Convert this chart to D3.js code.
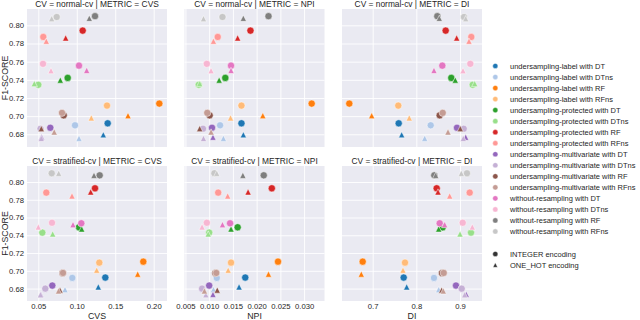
<!DOCTYPE html>
<html>
<head>
<meta charset="utf-8">
<script src="https://cdn.jsdelivr.net/npm/d3@7"></script>
<style>
  body { margin: 0; background: #fff; }
  svg { font-family: "Liberation Sans", Arial, sans-serif; }
</style>
</head>
<body>
<svg id="chart" width="640" height="320"></svg>
<script>
// methods in legend order, two encodings each
const methods = [
  "undersampling-label with DT", "undersampling-label with DTns",
  "undersampling-label with RF", "undersampling-label with RFns",
  "undersampling-protected with DT", "undersampling-protected with DTns",
  "undersampling-protected with RF", "undersampling-protected with RFns",
  "undersampling-multivariate with DT", "undersampling-multivariate with DTns",
  "undersampling-multivariate with RF", "undersampling-multivariate with RFns",
  "without-resampling with DT", "without-resampling with DTns",
  "without-resampling with RF", "without-resampling with RFns"
];
const encodings = ["INTEGER encoding", "ONE_HOT encoding"];
const cvs = ["normal-cv", "stratified-cv"];
const metrics = ["CVS", "NPI", "DI"];

// F1 per method
const f1NormalInt = [0.6921, 0.6899, 0.7138, 0.7116, 0.7421, 0.7345, 0.7942, 0.7872, 0.6872, 0.6861, 0.7009, 0.7036, 0.7556, 0.7576, 0.8101, 0.8092];
const f1NormalOh  = [0.6795, 0.6756, 0.7006, 0.6981, 0.7397, 0.7359, 0.7861, 0.7826, 0.6768, 0.6755, 0.6863, 0.6826, 0.7504, 0.7501, 0.8078, 0.8074];
const f1StratInt  = [0.6924, 0.6920, 0.7103, 0.7092, 0.7490, 0.7430, 0.7929, 0.7880, 0.6834, 0.6799, 0.6974, 0.6976, 0.7535, 0.7541, 0.8075, 0.8098];
const f1StratOh   = [0.6819, 0.6789, 0.6963, 0.7007, 0.7471, 0.7415, 0.7888, 0.7843, 0.6735, 0.6731, 0.6783, 0.6774, 0.7520, 0.7494, 0.8075, 0.8098];

// fairness metrics per method
const cvsNormalInt = [0.1402, 0.0977, 0.2073, 0.1393, 0.0882, 0.0500, 0.1077, 0.0565, 0.0656, 0.0529, 0.0830, 0.0808, 0.1029, 0.0561, 0.1237, 0.0739];
const cvsNormalOh  = [0.1345, 0.1029, 0.1666, 0.1189, 0.0786, 0.0448, 0.0856, 0.0604, 0.0542, 0.0539, 0.0539, 0.0707, 0.1129, 0.0665, 0.1163, 0.0674];
const npiNormalInt = [0.0168, 0.0123, 0.0316, 0.0168, 0.0134, 0.0078, 0.0187, 0.0118, 0.0106, 0.0087, 0.0101, 0.0096, 0.0146, 0.0095, 0.0225, 0.0128];
const npiNormalOh  = [0.0172, 0.0130, 0.0213, 0.0145, 0.0121, 0.0080, 0.0160, 0.0109, 0.0108, 0.0088, 0.0080, 0.0104, 0.0146, 0.0104, 0.0172, 0.0088];
const diNormalInt  = [0.7596, 0.8329, 0.6464, 0.7586, 0.8801, 0.9291, 0.8672, 0.9259, 0.8931, 0.9085, 0.8535, 0.8604, 0.8595, 0.9236, 0.8480, 0.9092];
const diNormalOh   = [0.7664, 0.8191, 0.6977, 0.7838, 0.8892, 0.9337, 0.8924, 0.9206, 0.9131, 0.9076, 0.9007, 0.8725, 0.8404, 0.9069, 0.8526, 0.9131];

const cvsStratInt = [0.1371, 0.0942, 0.1865, 0.1293, 0.1029, 0.0552, 0.1237, 0.0604, 0.0682, 0.0591, 0.0815, 0.0821, 0.1059, 0.0678, 0.1298, 0.0674];
const cvsStratOh  = [0.1280, 0.0847, 0.1792, 0.1259, 0.1064, 0.0687, 0.1181, 0.0938, 0.0532, 0.0529, 0.0782, 0.0763, 0.0951, 0.0500, 0.1224, 0.0765];
const npiStratInt = [0.0176, 0.0116, 0.0245, 0.0146, 0.0160, 0.0100, 0.0232, 0.0119, 0.0100, 0.0085, 0.0113, 0.0115, 0.0144, 0.0095, 0.0215, 0.0111];
const npiStratOh  = [0.0163, 0.0109, 0.0225, 0.0140, 0.0146, 0.0098, 0.0182, 0.0139, 0.0108, 0.0093, 0.0117, 0.0090, 0.0128, 0.0085, 0.0171, 0.0116];
const diStratInt  = [0.7710, 0.8404, 0.6771, 0.7740, 0.8604, 0.9252, 0.8466, 0.9222, 0.8908, 0.9039, 0.8588, 0.8627, 0.8535, 0.9062, 0.8411, 0.9160];
const diStratOh   = [0.7779, 0.8512, 0.6739, 0.7694, 0.8512, 0.9000, 0.8496, 0.8764, 0.9144, 0.9108, 0.8581, 0.8617, 0.8649, 0.9282, 0.8443, 0.9030];

// tick labels
const yTicks = [0.68, 0.70, 0.72, 0.74, 0.76, 0.78, 0.80];
const cvsTicks = [0.05, 0.10, 0.15, 0.20];
const npiTicks = [0.005, 0.010, 0.015, 0.020, 0.025, 0.030];
const diTicks = [0.7, 0.8, 0.9];

// tab20 pairs
const color = d3.scaleOrdinal().domain(methods).range([
  "#1f77b4", "#aec7e8", "#ff7f0e", "#ffbb78", "#2ca02c", "#98df8a", "#d62728", "#ff9896",
  "#9467bd", "#c5b0d5", "#8c564b", "#c49c94", "#e377c2", "#f7b6d2", "#7f7f7f", "#c7c7c7"
]);

const svg = d3.select("#chart");
const ink = "#262626";

const colX = [27, 184.5, 342], colW = 140;
const rowY = [9, 166], rowH = [138, 135];

const xDomains = [[0.0353, 0.2173], [0.0048, 0.0343], [0.6297, 0.9504]];
const xTicks = [cvsTicks, npiTicks, diTicks];
const xFormats = [d3.format(".2f"), d3.format(".3f"), d3.format(".1f")];

const xData = [
  [[cvsNormalInt, cvsNormalOh], [npiNormalInt, npiNormalOh], [diNormalInt, diNormalOh]],
  [[cvsStratInt, cvsStratOh], [npiStratInt, npiStratOh], [diStratInt, diStratOh]]
];
const yData = [[f1NormalInt, f1NormalOh], [f1StratInt, f1StratOh]];

function tri(h) {
  return "M0," + (-h) + "L" + (-h) + "," + h + "L" + h + "," + h + "Z";
}

cvs.forEach(function(cv, r) {
  const y = d3.scaleLinear().domain([0.666, 0.818]).range([rowY[r] + rowH[r], rowY[r]]);

  metrics.forEach(function(metric, c) {
    const x = d3.scaleLinear().domain(xDomains[c]).range([colX[c], colX[c] + colW]);
    const g = svg.append("g");

    g.append("rect")
      .attr("x", colX[c]).attr("y", rowY[r])
      .attr("width", colW).attr("height", rowH[r])
      .attr("fill", "#eaeaf2");

    // grid
    g.append("g")
      .attr("transform", "translate(" + colX[c] + ",0)")
      .call(d3.axisLeft(y).tickValues(yTicks).tickSize(-colW).tickFormat(c === 0 ? d3.format(".2f") : ""))
      .call(function(a) {
        a.select(".domain").remove();
        a.selectAll("line").attr("stroke", "#fff").attr("stroke-width", 0.9);
        a.selectAll("text").attr("x", -3).attr("fill", ink).style("font-size", "7.7px");
      });

    g.append("g")
      .attr("transform", "translate(0," + (rowY[r] + rowH[r]) + ")")
      .call(d3.axisBottom(x).tickValues(xTicks[c]).tickSize(-rowH[r]).tickFormat(r === 1 ? xFormats[c] : ""))
      .call(function(a) {
        a.select(".domain").remove();
        a.selectAll("line").attr("stroke", "#fff").attr("stroke-width", 0.9);
        a.selectAll("text").attr("y", 3).attr("fill", ink).style("font-size", "7.7px");
      });

    g.append("text")
      .attr("x", colX[c] + colW / 2)
      .attr("y", rowY[r] - 2.5)
      .attr("text-anchor", "middle")
      .attr("fill", ink)
      .style("font-size", "8.4px")
      .text("CV = " + cv + " | METRIC = " + metric);

    if (r === 1) {
      g.append("text")
        .attr("x", colX[c] + colW / 2)
        .attr("y", 319)
        .attr("text-anchor", "middle")
        .attr("fill", ink)
        .style("font-size", "8.8px")
        .text(metric);
    }

    // points
    const xs = xData[r][c], ys = yData[r];
    methods.forEach(function(m, i) {
      g.append("circle")
        .attr("cx", x(xs[0][i]))
        .attr("cy", y(ys[0][i]))
        .attr("r", 3.6)
        .attr("fill", color(m))
        .attr("stroke", "#fff")
        .attr("stroke-width", 0.5);
      g.append("path")
        .attr("d", tri(3.1))
        .attr("transform", "translate(" + x(xs[1][i]) + "," + y(ys[1][i]) + ")")
        .attr("fill", color(m))
        .attr("stroke", "#fff")
        .attr("stroke-width", 0.5);
    });
  });

  svg.append("text")
    .attr("transform", "translate(7.5," + (rowY[r] + rowH[r] / 2) + ") rotate(-90)")
    .attr("text-anchor", "middle")
    .attr("fill", ink)
    .style("font-size", "8.8px")
    .text("F1-SCORE");
});

// legend
const legend = svg.append("g");
methods.forEach(function(m, i) {
  const ly = 66 + i * 11.03;
  legend.append("circle").attr("cx", 495.3).attr("cy", ly).attr("r", 2.6)
    .attr("fill", color(m)).attr("stroke", "#fff").attr("stroke-width", 0.4);
  legend.append("text").attr("x", 510).attr("y", ly).attr("dy", "0.35em")
    .attr("fill", ink).style("font-size", "7.5px").text(m);
});
encodings.forEach(function(e, i) {
  const ly = 254 + i * 11;
  if (i === 0) {
    legend.append("circle").attr("cx", 495.3).attr("cy", ly).attr("r", 2.6)
      .attr("fill", "#333").attr("stroke", "#fff").attr("stroke-width", 0.4);
  } else {
    legend.append("path").attr("d", tri(2.3))
      .attr("transform", "translate(495.3," + ly + ")")
      .attr("fill", "#333").attr("stroke", "#fff").attr("stroke-width", 0.4);
  }
  legend.append("text").attr("x", 510).attr("y", ly).attr("dy", "0.35em")
    .attr("fill", ink).style("font-size", "7.5px").text(e);
});
</script>
</body>
</html>
